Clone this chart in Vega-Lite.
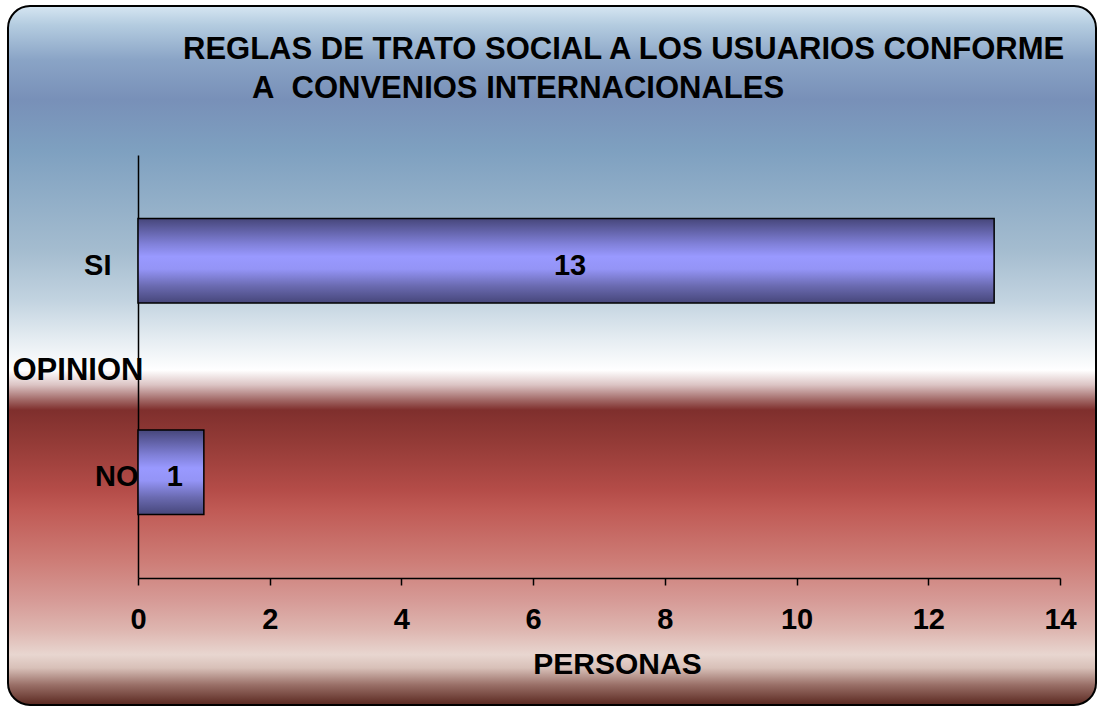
{
  "$schema": "https://vega.github.io/schema/vega-lite/v6.json",
  "autosize": {"type": "none"},
  "width": 1088,
  "height": 699,
  "padding": {"left": 8, "top": 6, "right": 5, "bottom": 2},
  "background": "white",
  "title": {
    "text": ["REGLAS DE TRATO SOCIAL A LOS USUARIOS CONFORME", "\u200b\u00a0\u00a0\u00a0\u00a0\u00a0\u00a0\u00a0\u00a0A\u00a0\u00a0CONVENIOS INTERNACIONALES"],
    "anchor": "start",
    "frame": "group",
    "orient": "top",
    "font": "Liberation Sans",
    "fontSize": 31,
    "fontWeight": "bold",
    "color": "black",
    "lineHeight": 39,
    "baseline": "alphabetic",
    "offset": -70,
    "dx": 175,
    "dy": 53
  },
  "config": {
    "font": "Liberation Sans",
    "view": {
      "fill": {
        "gradient": "linear",
        "x1": 0, "y1": 0, "x2": 0, "y2": 1,
        "stops": [
          {"offset": 0.0, "color": "#d6e6f2"},
          {"offset": 0.027, "color": "#b4cce0"},
          {"offset": 0.077, "color": "#8aa4c6"},
          {"offset": 0.134, "color": "#7890b8"},
          {"offset": 0.206, "color": "#7ea0c0"},
          {"offset": 0.349, "color": "#a4bccf"},
          {"offset": 0.421, "color": "#c2d3e0"},
          {"offset": 0.478, "color": "#e6edf2"},
          {"offset": 0.521, "color": "#ffffff"},
          {"offset": 0.542, "color": "#dcc4c4"},
          {"offset": 0.564, "color": "#a06664"},
          {"offset": 0.578, "color": "#7f2f2d"},
          {"offset": 0.621, "color": "#923a36"},
          {"offset": 0.692, "color": "#b44c48"},
          {"offset": 0.721, "color": "#c05a55"},
          {"offset": 0.793, "color": "#cd7c76"},
          {"offset": 0.85, "color": "#d69a96"},
          {"offset": 0.893, "color": "#deb6b0"},
          {"offset": 0.928, "color": "#e8d6d0"},
          {"offset": 0.947, "color": "#d8c0b8"},
          {"offset": 0.971, "color": "#9a7068"},
          {"offset": 1.0, "color": "#5a2820"}
        ]
      },
      "stroke": "black",
      "strokeWidth": 2,
      "cornerRadius": 22
    }
  },
  "data": {
    "values": [
      {"opinion": "SI", "personas": 13},
      {"opinion": "NO", "personas": 1}
    ]
  },
  "encoding": {
    "y": {
      "field": "opinion",
      "type": "nominal",
      "sort": ["SI", "NO"],
      "scale": {"range": [149, 572], "paddingInner": 0.6, "paddingOuter": 0.3},
      "axis": {
        "title": "OPINION",
        "titleAngle": 0,
        "titleAlign": "left",
        "titleBaseline": "alphabetic",
        "titleX": -126,
        "titleY": 373,
        "titleFontSize": 31,
        "titleFontWeight": "bold",
        "titleColor": "black",
        "offset": -130,
        "domainColor": "black",
        "domainWidth": 1.5,
        "ticks": false,
        "tickSize": 0,
        "grid": false,
        "labelFontSize": 29,
        "labelFontWeight": "bold",
        "labelColor": "black",
        "labelBaseline": "alphabetic",
        "labelOffset": 14,
        "labelPadding": {"condition": {"test": "datum.value === 'SI'", "value": 27}, "value": 0}
      }
    }
  },
  "layer": [
    {
      "mark": {
        "type": "bar",
        "stroke": "black",
        "strokeWidth": 1.5,
        "fill": {
          "gradient": "linear",
          "x1": 0, "y1": 0, "x2": 0, "y2": 1,
          "stops": [
            {"offset": 0, "color": "#46467a"},
            {"offset": 0.3, "color": "#8080d8"},
            {"offset": 0.45, "color": "#9999ff"},
            {"offset": 0.6, "color": "#9494f6"},
            {"offset": 0.8, "color": "#6a6ab0"},
            {"offset": 1, "color": "#46467a"}
          ]
        }
      },
      "encoding": {
        "x": {
          "field": "personas",
          "type": "quantitative",
          "scale": {"domain": [0, 14], "range": [130, 1052], "nice": false, "zero": true},
          "axis": {
            "title": "PERSONAS",
            "offset": -127,
            "values": [0, 2, 4, 6, 8, 10, 12, 14],
            "grid": false,
            "domainColor": "black",
            "domainWidth": 1.5,
            "tickColor": "black",
            "tickSize": 7,
            "tickWidth": 1.5,
            "labelFontSize": 29,
            "labelFontWeight": "bold",
            "labelColor": "black",
            "labelBaseline": "alphabetic",
            "labelPadding": 43,
            "labelFlush": false,
            "labelOverlap": false,
            "titleFontSize": 30,
            "titleFontWeight": "bold",
            "titleColor": "black",
            "titleAlign": "center",
            "titleBaseline": "alphabetic",
            "titleX": 609,
            "titleY": 95
          }
        }
      }
    },
    {
      "mark": {
        "type": "text",
        "font": "Liberation Sans",
        "fontSize": 29,
        "fontWeight": "bold",
        "color": "black",
        "baseline": "alphabetic",
        "align": "center",
        "dx": 4,
        "dy": 14
      },
      "encoding": {
        "x": {
          "field": "personas",
          "type": "quantitative",
          "scale": {"domain": [0, 28], "range": [130, 1052], "nice": false, "zero": true},
          "axis": null
        },
        "text": {"field": "personas", "type": "quantitative"}
      }
    }
  ],
  "resolve": {"scale": {"x": "independent"}}
}
